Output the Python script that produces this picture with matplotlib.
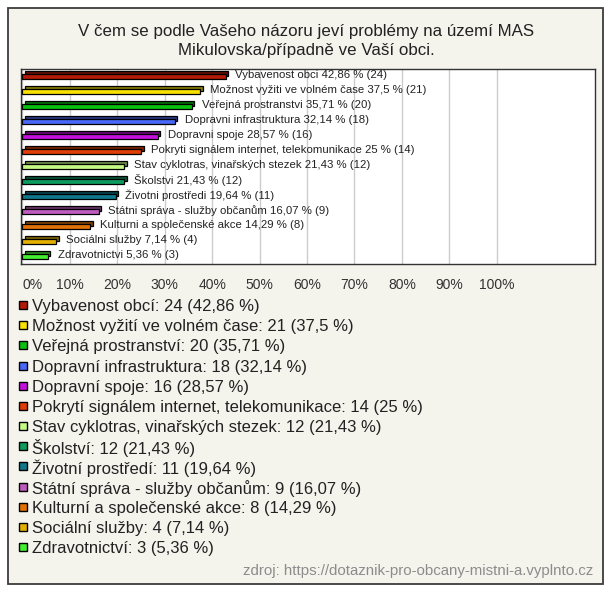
import numpy as np
import matplotlib
matplotlib.use('Agg')
from matplotlib import pyplot as plt
from matplotlib.patches import Rectangle
from matplotlib.transforms import ScaledTranslation
from matplotlib.colors import to_rgb

plt.rcParams['font.family'] = ['Liberation Sans', 'DejaVu Sans']

names = ['Vybavenost obcí', 'Možnost vyžití ve volném čase', 'Veřejná prostranství',
         'Dopravní infrastruktura', 'Dopravní spoje', 'Pokrytí signálem internet, telekomunikace',
         'Stav cyklotras, vinařských stezek', 'Školství', 'Životní prostředí',
         'Státní správa - služby občanům', 'Kulturní a společenské akce', 'Sociální služby',
         'Zdravotnictví']
counts = [24, 21, 20, 18, 16, 14, 12, 12, 11, 9, 8, 4, 3]
pcts = [42.86, 37.5, 35.71, 32.14, 28.57, 25, 21.43, 21.43, 19.64, 16.07, 14.29, 7.14, 5.36]
colors = ['#b41a06', '#f8e000', '#08c010', '#4868f8', '#c410dc', '#e03e06', '#c4fa84',
          '#0e9c5e', '#10788c', '#c05cc0', '#e07206', '#e4b000', '#44ee30']
xticks = [0, 10, 20, 30, 40, 50, 60, 70, 80, 90, 100]

title = 'V čem se podle Vašeho názoru jeví problémy na území MAS\nMikulovska/případně ve Vaší obci.'
source = 'zdroj: https://dotaznik-pro-obcany-mistni-a.vyplnto.cz'

W, H = 612, 593
fig = plt.figure(figsize=(W / 100, H / 100), dpi=100)
fig.patch.set_facecolor('white')
fig.add_artist(Rectangle((8 / W, 1 - 584 / H), 595 / W, 576 / H, transform=fig.transFigure,
                         facecolor='#f4f3ec', edgecolor='#3c3c3c', lw=1.3, zorder=0))

fig.text(306 / W, 1 - 41 / H, title, ha='center', va='center', fontsize=12.2, color='#222222',
         linespacing=1.3)

ax = fig.add_axes([21 / W, 1 - 264 / H, 574 / W, 195 / H])
ax.set_facecolor('white')
y = np.arange(len(names))
fmt = lambda p: f'{p:g}'.replace('.', ',')

# depth face of the bars, shifted up-right by a few pixels
shift = ax.transData + ScaledTranslation(0.025, 0.03, fig.dpi_scale_trans)
dark = [tuple(np.array(to_rgb(c)) * 0.55) for c in colors]
ax.barh(y, pcts, height=0.38, color=dark, edgecolor='black', lw=0.9, transform=shift, zorder=2)
ax.barh(y, pcts, height=0.38, color=colors, edgecolor='black', lw=0.9, zorder=3)

for yi, n, p, c in zip(y, names, pcts, counts):
    ax.annotate(f"{n.replace('í', 'i')} {fmt(p)} % ({c})", xy=(p, yi), xytext=(7, 1),
                textcoords='offset points', va='center', ha='left', fontsize=8.2, color='#222222')

ax.set_xlim(-0.3, 120.7)
ax.set_ylim(12.5, -0.5)
ax.set_xticks(xticks)
ax.set_xticklabels([f'{t}%' for t in xticks], fontsize=10, color='#333333')
ax.get_xticklabels()[0].set_ha('left')
ax.tick_params(axis='x', length=0, pad=10)
ax.set_yticks([])
ax.grid(axis='x', color='#cccccc', lw=1, zorder=0)
ax.set_axisbelow(True)
for s in ax.spines.values():
    s.set_color('#333333')
    s.set_linewidth(1)

# legend below the chart: square + text per row
row0, step = 305, 20.17
for i, (n, c, p, col) in enumerate(zip(names, counts, pcts, colors)):
    yc = row0 + i * step
    fig.add_artist(Rectangle((19 / W, 1 - (yc + 4) / H), 8 / W, 8 / H, transform=fig.transFigure,
                             facecolor=col, edgecolor='black', lw=1))
    fig.text(32 / W, 1 - yc / H, f'{n}: {c} ({fmt(p)} %)', ha='left', va='center_baseline',
             fontsize=12, color='#222222')

fig.text(593 / W, 1 - 571 / H, source, ha='right', va='center', fontsize=10.8, color='#8c8c8c')

plt.savefig('out.png', dpi=100, facecolor=fig.get_facecolor())
